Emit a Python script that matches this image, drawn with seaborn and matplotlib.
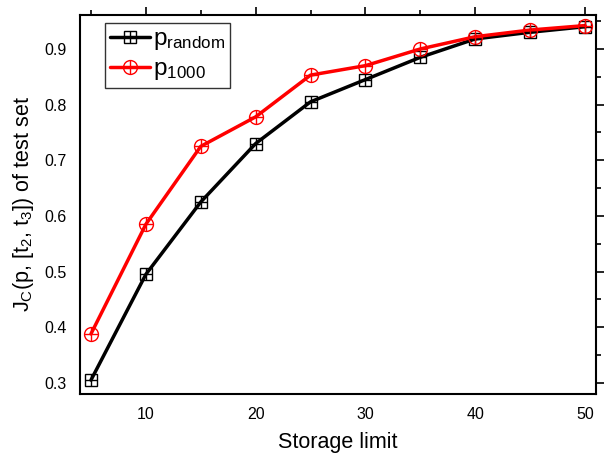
import matplotlib
matplotlib.use("Agg")
import matplotlib.pyplot as plt
import seaborn as sns
import pandas as pd
from matplotlib.legend_handler import HandlerTuple
from matplotlib.lines import Line2D

storage = [5, 10, 15, 20, 25, 30, 35, 40, 45, 50]
p_random = [0.305, 0.495, 0.625, 0.730, 0.805, 0.845, 0.885, 0.918, 0.930, 0.940]
p_1000 = [0.388, 0.585, 0.725, 0.778, 0.853, 0.870, 0.900, 0.922, 0.934, 0.942]
series_labels = ["p$_{random}$", "p$_{1000}$"]

sns.set_theme(style="white")
plt.rcParams['font.family'] = ['Liberation Sans', 'DejaVu Sans']
plt.rcParams['mathtext.default'] = 'regular'
plt.rcParams['text.color'] = 'black'
plt.rcParams['axes.labelcolor'] = 'black'
plt.rcParams['xtick.color'] = 'black'
plt.rcParams['ytick.color'] = 'black'

df = pd.DataFrame({"x": storage, "random": p_random, "p1000": p_1000})

fig = plt.figure(figsize=(6.1, 4.57), dpi=100)
ax = fig.add_axes([80/610, 1-394/457, (596-80)/610, (394-15)/457])

ms = 8.5
sns.lineplot(data=df, x="x", y="random", ax=ax, color="black", lw=2.5,
             marker="s", markersize=ms, markerfacecolor="none",
             markeredgecolor="black", markeredgewidth=1.0)
sns.scatterplot(data=df, x="x", y="random", ax=ax, color="black", marker="+",
                s=75, linewidth=1.0, zorder=5)
sns.lineplot(data=df, x="x", y="p1000", ax=ax, color="red", lw=2.5,
             marker="o", markersize=ms + 1.5, markerfacecolor="none",
             markeredgecolor="red", markeredgewidth=1.0)
sns.scatterplot(data=df, x="x", y="p1000", ax=ax, color="red", marker="+",
                s=100, linewidth=1.0, zorder=5)

ax.set_xlim(4, 51)
ax.set_ylim(0.28, 0.961)
ax.set_xticks([10, 20, 30, 40, 50])
ax.set_xticks([5, 15, 25, 35, 45], minor=True)
ax.set_yticks([0.3, 0.4, 0.5, 0.6, 0.7, 0.8, 0.9])
ax.set_yticks([0.35, 0.45, 0.55, 0.65, 0.75, 0.85, 0.95], minor=True)
ax.tick_params(which="both", direction="out", top=True, right=True,
               labeltop=False, labelright=False, width=1.2, colors="black",
               labelsize=11.5)
ax.tick_params(which="major", length=6)
ax.tick_params(which="minor", length=3.5)
for s in ax.spines.values():
    s.set_color("black")
    s.set_linewidth(1.5)

ax.set_xlabel("Storage limit", fontsize=15.5, labelpad=7)
ax.set_ylabel("J$_C$(p, [t$_2$, t$_3$]) of test set", fontsize=15.5, labelpad=6)

h1 = (Line2D([], [], color="black", lw=2.5, marker="s", markersize=ms,
             markerfacecolor="none", markeredgecolor="black", markeredgewidth=1.0),
      Line2D([], [], ls="none", marker="+", color="black", markersize=8.5, markeredgewidth=1.0))
h2 = (Line2D([], [], color="red", lw=2.5, marker="o", markersize=ms + 1.5,
             markerfacecolor="none", markeredgecolor="red", markeredgewidth=1.0),
      Line2D([], [], ls="none", marker="+", color="red", markersize=10, markeredgewidth=1.0))
leg = ax.legend([h1, h2], series_labels,
                handler_map={tuple: HandlerTuple(ndivide=1)},
                loc="upper left", bbox_to_anchor=(0.048, 0.979), fontsize=17.5,
                frameon=True, fancybox=False, edgecolor="black",
                handlelength=1.65, handletextpad=0.1, borderpad=0.22,
                labelspacing=0.25, borderaxespad=0)
leg.get_frame().set_linewidth(1.0)

fig.savefig("out.png", dpi=100)
